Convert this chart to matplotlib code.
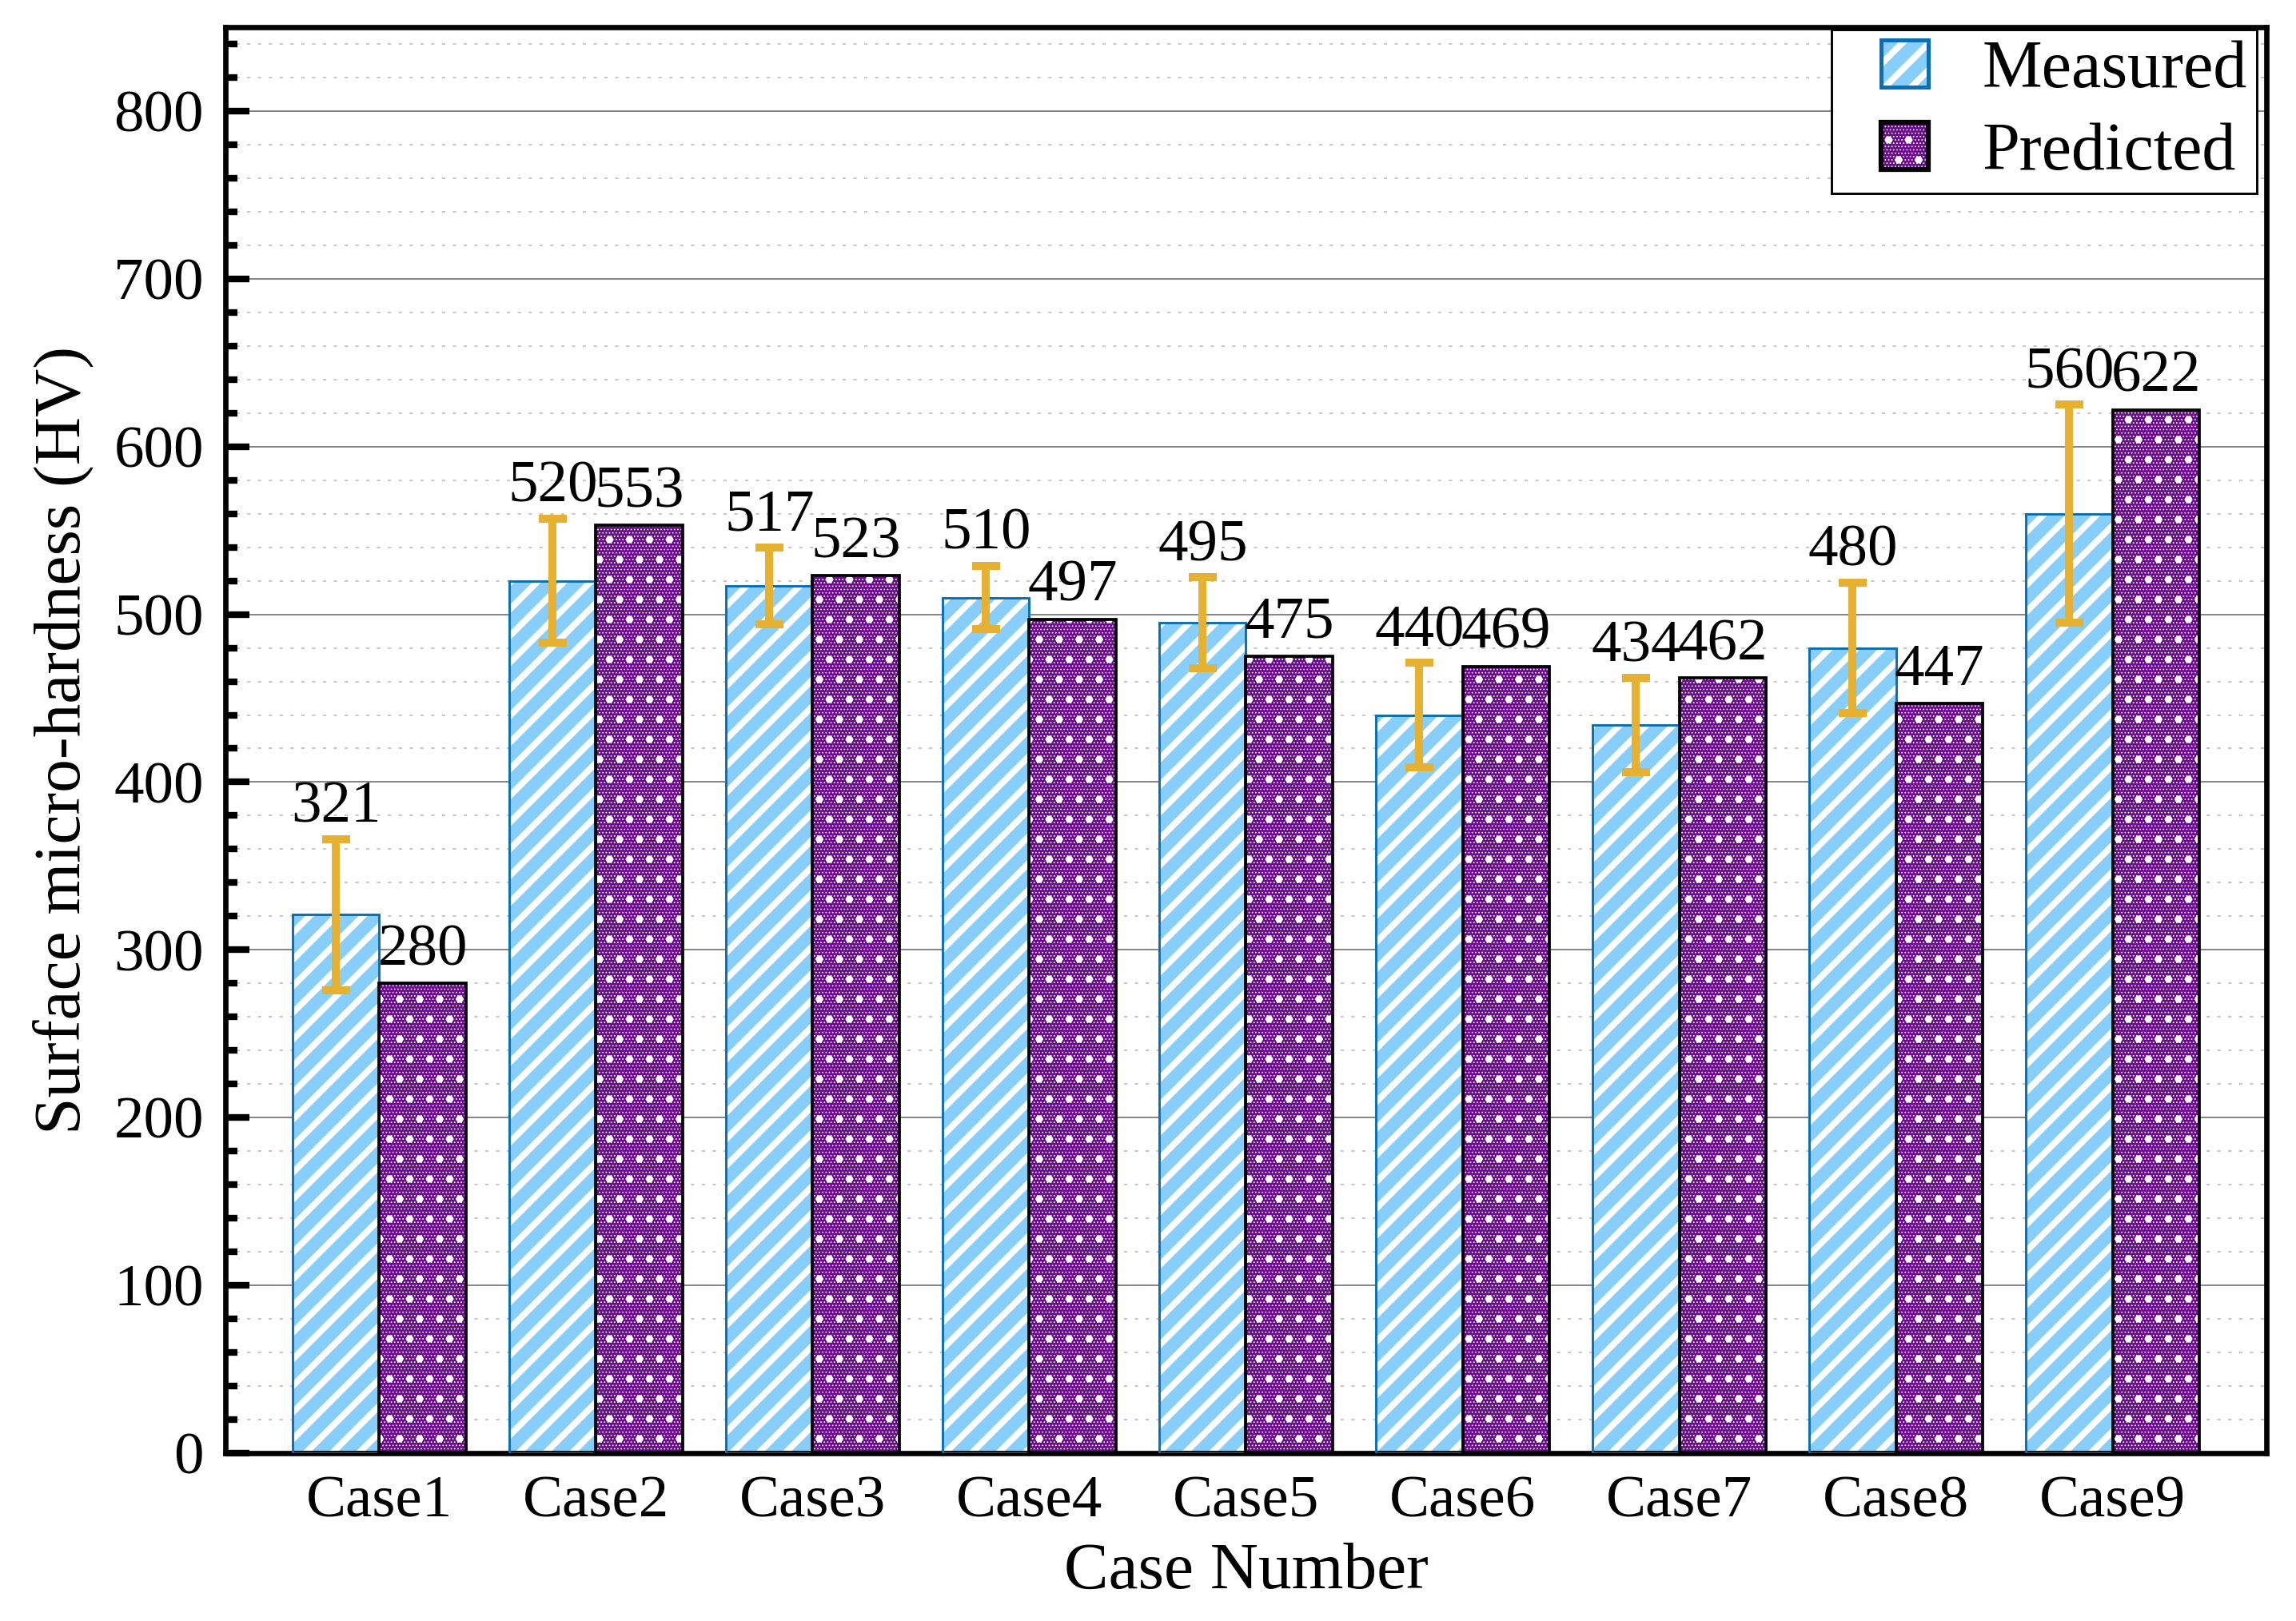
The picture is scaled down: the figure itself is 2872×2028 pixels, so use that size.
import matplotlib
matplotlib.use('Agg')
import matplotlib.pyplot as plt
from matplotlib.ticker import MultipleLocator
import matplotlib.patches as mpatches
import numpy as np

# data
cases = ['Case1', 'Case2', 'Case3', 'Case4', 'Case5', 'Case6', 'Case7', 'Case8', 'Case9']
measured = [321, 520, 517, 510, 495, 440, 434, 480, 560]
predicted = [280, 553, 523, 497, 475, 469, 462, 447, 622]
meas_err = [45, 37, 23, 19, 27, 31, 28, 39, 65]

plt.rcParams['font.family'] = ['Liberation Serif', 'DejaVu Serif']
plt.rcParams['hatch.linewidth'] = 1.5

blue_face = '#87CEFA'
blue_edge = '#0A6EB4'
purple = '#6A0A8C'
err_col = '#E6B030'

# (hatch, hatch linewidth) layers for each series
blue_layers = [('///', 1.9)]
purple_layers = [('.' * 12, 0.25), ('..', 1.0)]

fig = plt.figure(figsize=(2872 / 300, 2028 / 300), dpi=300)
ax = fig.add_axes([0.0982, 0.1036, 0.9871 - 0.0982, 0.9832 - 0.1036])

x = np.arange(len(cases))
w = 0.4


def set_hlw(patches, lw):
    for p in patches:
        if hasattr(p, 'set_hatch_linewidth'):
            p.set_hatch_linewidth(lw)


def layered_bar(xpos, vals, face, layers, edge, elw):
    ax.bar(xpos, vals, w, color=face, linewidth=0, zorder=2)
    for h, hlw in layers:
        bb = ax.bar(xpos, vals, w, fill=False, edgecolor='white', hatch=h,
                    linewidth=0, zorder=2)
        set_hlw(bb, hlw)
    ax.bar(xpos, vals, w, fill=False, edgecolor=edge, linewidth=elw, zorder=3)


layered_bar(x - w / 2, measured, blue_face, blue_layers, blue_edge, 0.7)
layered_bar(x + w / 2, predicted, purple, purple_layers, 'black', 0.9)

eb = ax.errorbar(x - w / 2, measured, yerr=meas_err, fmt='none', ecolor=err_col,
                 elinewidth=2.4, capsize=4.2, capthick=2.4, zorder=4)
for cl in eb[1]:
    cl.set_solid_capstyle('round')
for lc in eb[2]:
    lc.set_capstyle('round')

for i in range(len(cases)):
    ax.text(x[i] - w / 2, measured[i] + meas_err[i] + 10, str(measured[i]),
            ha='center', va='baseline', fontsize=18, zorder=5)
    ax.text(x[i] + w / 2, predicted[i] + 11, str(predicted[i]),
            ha='center', va='baseline', fontsize=18, zorder=5)

ax.set_xlim(-0.71, 8.71)
ax.set_ylim(0, 850)
ax.set_xticks(x)
ax.set_xticklabels(cases)
ax.yaxis.set_major_locator(MultipleLocator(100))
ax.yaxis.set_minor_locator(MultipleLocator(20))

ax.tick_params(axis='y', which='major', direction='in', length=7.2, width=2,
               labelsize=18, pad=6.5)
ax.tick_params(axis='y', which='minor', direction='in', length=3.6, width=2)
ax.tick_params(axis='x', which='both', length=0, labelsize=18, pad=6.8)

ax.grid(which='major', axis='y', color='#808080', linewidth=0.45, zorder=0)
ax.grid(which='minor', axis='y', color='#C8C8C8', linewidth=0.5,
        linestyle=(0, (2, 4.5)), zorder=0)
ax.set_axisbelow(True)

for s in ax.spines.values():
    s.set_linewidth(1.6)

ax.set_xlabel('Case Number', fontsize=20, labelpad=3.8)
ax.set_ylabel('Surface micro-hardness (HV)', fontsize=20, labelpad=6)


class BoxHandler:
    # draws a square swatch at the right end of the handle box
    def __init__(self, face, layers, edge, elw):
        self.face, self.layers, self.edge, self.elw = face, layers, edge, elw

    def legend_artist(self, legend, orig_handle, fontsize, handlebox):
        x0, y0 = handlebox.xdescent, handlebox.ydescent
        bw, bh = handlebox.width, handlebox.height
        side = 14.2
        left = -x0 + bw - side
        bottom = -y0 + (bh - side) / 2
        tr = handlebox.get_transform()
        base = mpatches.Rectangle((left, bottom), side, side, facecolor=self.face,
                                  linewidth=0, transform=tr)
        handlebox.add_artist(base)
        for h, hlw in self.layers:
            r = mpatches.Rectangle((left, bottom), side, side, fill=False,
                                   edgecolor='white', hatch=h, linewidth=0,
                                   transform=tr)
            set_hlw([r], hlw)
            handlebox.add_artist(r)
        edge = mpatches.Rectangle((left, bottom), side, side, fill=False,
                                  edgecolor=self.edge, linewidth=self.elw,
                                  transform=tr)
        handlebox.add_artist(edge)
        return base


h1 = mpatches.Patch(label='Measured')
h2 = mpatches.Patch(label='Predicted')
leg = ax.legend([h1, h2], ['Measured', 'Predicted'], loc='upper right',
                bbox_to_anchor=(0.9953, 0.9983), borderaxespad=0,
                handler_map={h1: BoxHandler(blue_face, blue_layers, blue_edge, 1.2),
                             h2: BoxHandler(purple, purple_layers, 'black', 1.5)},
                fontsize=20.2, frameon=True, fancybox=False, framealpha=1,
                edgecolor='black', handlelength=1.3, handleheight=0.74,
                handletextpad=0.8, borderpad=0.14, labelspacing=0.30)
leg.get_frame().set_linewidth(0.7)

fig.savefig('out.png', dpi=300)
